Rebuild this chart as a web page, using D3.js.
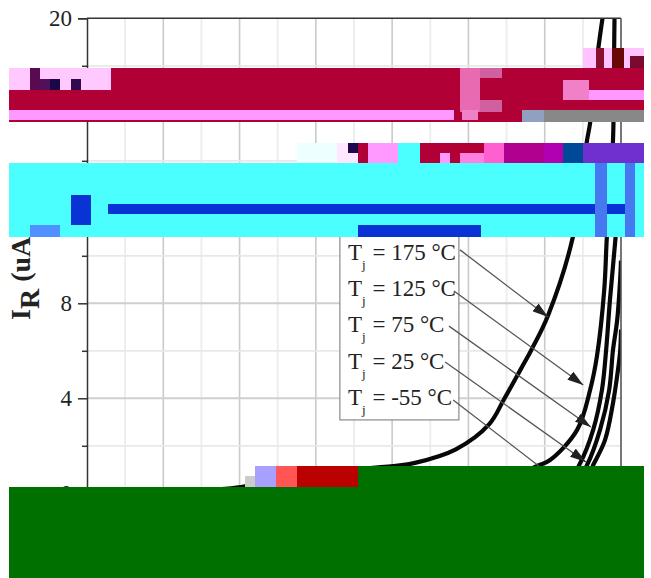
<!DOCTYPE html>
<html>
<head>
<meta charset="utf-8">
<script src="https://cdn.jsdelivr.net/npm/d3@7"></script>
<style>
  body { margin: 0; background: #fff; }
  text { font-family: "Liberation Serif", serif; fill: #222; }
</style>
</head>
<body>
<svg width="651" height="578"></svg>
<script>
// values, x = reverse voltage (V), y = IR (uA)
const temps = ['175', '125', '75', '25', '-55']

const v175 = [0, 218, 414, 480, 532, 710, 815, 860, 967, 1054, 1093, 1138, 1167, 1209, 1274, 1311, 1319, 1340, 1352]
const i175 = [0, 0.1, 0.3, 0.73, 0.77, 1.02, 1.17, 1.28, 1.85, 2.9, 3.95, 5.25, 6.1, 7.5, 10.8, 14.87, 15.59, 18.66, 20.05]
const v125 = [0, 1030, 1180, 1214, 1285, 1319, 1337, 1356, 1363, 1379, 1382, 1383]
const i125 = [0, 0.1, 1.15, 1.4, 2.67, 4.35, 5.78, 8.56, 10.83, 14.87, 18.66, 20.05]
const v75 = [0, 1240, 1293, 1327, 1350, 1361, 1371, 1386, 1400]
const i75 = [0, 0.1, 1.28, 2.67, 4.35, 6.03, 8.14, 10.83, 13.8]
const v25 = [0, 1266, 1311, 1345, 1369, 1379, 1390, 1398, 1400]
const i25 = [0, 0.1, 1.19, 2.67, 4.35, 6.03, 7.3, 9.07, 9.8]
const vm55 = [0, 1293, 1327, 1358, 1379, 1392, 1398, 1400]
const im55 = [0, 0.1, 1.19, 2.24, 3.8, 5.19, 6.03, 6.9]

// legend arrows: label end -> curve, same units
const arrowV0 = [978, 962, 949, 939, 960]
const arrowI0 = [10.25, 8.52, 7.04, 5.53, 3.93]
const arrowV1 = [1209, 1301, 1321, 1308, 1266]
const arrowI1 = [7.42, 4.56, 2.79, 1.32, 0.14]

const yMajor = [0, 4, 8, 12, 16, 20]
const yMinor = [2, 6, 10, 14, 18]
const xMajor = [200, 400, 600, 800, 1000, 1200]
const xMinor = [100, 300, 500, 700, 900, 1100, 1300]

const svg = d3.select('svg')
const x = d3.scaleLinear().domain([0, 1400]).range([87, 621])
const y = d3.scaleLinear().domain([0, 20]).range([493.3, 18.3])

// grid
const grid = svg.append('g')
function vlines(vals, col, w) {
  grid.selectAll(null).data(vals).enter().append('line')
    .attr('x1', d => x(d)).attr('x2', d => x(d))
    .attr('y1', y(20)).attr('y2', y(0))
    .attr('stroke', col).attr('stroke-width', w)
}
function hlines(vals, col, w) {
  grid.selectAll(null).data(vals).enter().append('line')
    .attr('y1', d => y(d)).attr('y2', d => y(d))
    .attr('x1', x(0)).attr('x2', x(1400))
    .attr('stroke', col).attr('stroke-width', w)
}
vlines(xMinor, '#ececec', 1.8)
vlines(xMajor, '#cacaca', 1.6)
hlines(yMinor, '#e8e8e8', 1.8)
hlines(yMajor.slice(1, 5), '#cfcfcf', 2)

// legend box goes under the curves
svg.append('rect')
  .attr('x', x(663)).attr('width', x(975) - x(663))
  .attr('y', y(11.5)).attr('height', y(3.09) - y(11.5))
  .attr('fill', '#fff').attr('stroke', '#8a8a8a').attr('stroke-width', 1.2)

// curves
svg.append('clipPath').attr('id', 'plot').append('rect')
  .attr('x', x(0)).attr('y', y(20)).attr('width', x(1400) - x(0)).attr('height', y(0) - y(20))
const line = d3.line().x(d => x(d[0])).y(d => y(d[1])).curve(d3.curveCatmullRom.alpha(0.5))
const curves = [[v175, i175], [v125, i125], [v75, i75], [v25, i25], [vm55, im55]]
svg.append('g').attr('clip-path', 'url(#plot)')
  .selectAll('path').data(curves).enter().append('path')
  .attr('d', d => line(d3.zip(d[0], d[1])))
  .attr('fill', 'none').attr('stroke', '#080808').attr('stroke-width', 4.2)

// frame
svg.append('path')
  .attr('d', `M${x(0)},${y(20)}H${x(1400)}`).attr('stroke', '#333').attr('stroke-width', 1.6)
svg.append('path')
  .attr('d', `M${x(1400)},${y(20)}V${y(0)}`).attr('stroke', '#555').attr('stroke-width', 1.6)

// y axis
const axisMajor = d3.axisLeft(y).tickValues(yMajor).tickSize(9).tickPadding(6).tickFormat(d3.format('d'))
const gy = svg.append('g').attr('transform', `translate(${x(0)},0)`).call(axisMajor)
gy.selectAll('text').attr('font-size', 23).style('font-family', '"Liberation Serif", serif').attr('fill', '#333')
gy.selectAll('line, path').attr('stroke', '#333').attr('stroke-width', 1.5)
const gy2 = svg.append('g').attr('transform', `translate(${x(0)},0)`)
  .call(d3.axisLeft(y).tickValues(yMinor).tickSize(5).tickFormat(''))
gy2.selectAll('line').attr('stroke', '#333').attr('stroke-width', 1.5)
gy2.select('path').remove()

// y title
const title = svg.append('text')
  .attr('transform', 'translate(30,320) rotate(-90)')
  .attr('font-size', 28).attr('font-weight', 'bold')
title.append('tspan').text('I')
title.append('tspan').attr('dy', 9).text('R')
title.append('tspan').attr('dy', -9).attr('dx', 7).text('(uA)')

// legend labels
const legend = svg.append('g')
temps.forEach(function (t, i) {
  const row = legend.append('text')
    .attr('x', 348).attr('y', 260 + i * 36.2).attr('font-size', 23)
  row.append('tspan').text('T')
  row.append('tspan').attr('dy', 9).attr('font-size', 13).text('j')
  row.append('tspan').attr('dy', -9).attr('dx', 1).text(' = ' + t + ' °C')
})

// arrows
svg.append('marker').attr('id', 'head')
  .attr('viewBox', '0 0 16 10').attr('refX', 16).attr('refY', 5)
  .attr('markerWidth', 16).attr('markerHeight', 10)
  .attr('markerUnits', 'userSpaceOnUse').attr('orient', 'auto')
  .append('path').attr('d', 'M0,0L16,5L0,10Z').attr('fill', '#222')
svg.append('g').selectAll('line').data(temps).enter().append('line')
  .attr('x1', (d, i) => x(arrowV0[i])).attr('y1', (d, i) => y(arrowI0[i]))
  .attr('x2', (d, i) => x(arrowV1[i])).attr('y2', (d, i) => y(arrowI1[i]))
  .attr('stroke', '#555').attr('stroke-width', 1.3)
  .attr('marker-end', 'url(#head)')

// damaged areas of the picture, drawn over the chart as flat blocks
const damage = [
  // top patch
  [583, 48, 61, 20, '#ffc4ff'], [596, 48, 8, 20, '#8a1030'], [612, 48, 12, 20, '#6a0808'], [630, 56, 14, 12, '#7a0a30'],
  // crimson band
  [9, 68, 635, 54, '#b00035'], [9, 68, 102, 22, '#ffc8ff'], [30, 68, 10, 22, '#5a0a50'], [40, 79, 18, 11, '#50105a'],
  [50, 79, 10, 11, '#180848'], [71, 79, 10, 11, '#300a50'], [460, 68, 20, 44, '#e86ab0'], [480, 68, 22, 10, '#d060a0'],
  [480, 100, 22, 12, '#d060a0'], [563, 80, 26, 20, '#f080c8'], [589, 90, 55, 10, '#ff99ff'],
  [9, 110, 445, 10, '#ff99ff'], [462, 110, 16, 10, '#f080c8'], [522, 110, 22, 12, '#90a0c0'], [544, 110, 100, 12, '#888888'],
  // strip above the cyan band
  [297, 143, 40, 20, '#eeffff'], [337, 143, 22, 20, '#ffe8ff'], [348, 143, 10, 10, '#200850'], [358, 143, 10, 20, '#b00035'],
  [368, 143, 30, 20, '#ff99ff'], [398, 143, 22, 20, '#4cffff'], [420, 143, 64, 20, '#b00035'], [440, 153, 10, 10, '#ff99ff'],
  [460, 153, 24, 10, '#ff80e0'], [484, 143, 20, 20, '#ff60d0'], [504, 143, 40, 20, '#b00090'], [544, 143, 20, 20, '#b000b0'],
  [563, 143, 20, 20, '#004898'], [583, 143, 61, 20, '#7030d0'],
  // cyan band
  [9, 163, 635, 74, '#4cffff'], [30, 225, 30, 12, '#5090ff'], [71, 195, 20, 30, '#0a33d6'],
  [108, 204, 517, 10, '#0a33d6'], [358, 225, 123, 12, '#0a33d6'], [595, 163, 12, 74, '#4878f0'], [625, 163, 10, 74, '#4878f0'],
  // bottom
  [245, 476, 10, 11, '#cccccc'], [255, 466, 21, 21, '#a8a0ff'], [276, 466, 21, 21, '#ff5555'], [297, 466, 61, 21, '#bb0000'],
  [358, 466, 286, 21, '#007000'], [9, 487, 635, 91, '#007000']
]
svg.append('g').selectAll('rect').data(damage).enter().append('rect')
  .attr('x', d => d[0]).attr('y', d => d[1])
  .attr('width', d => d[2]).attr('height', d => d[3])
  .attr('fill', d => d[4])
</script>
</body>
</html>
